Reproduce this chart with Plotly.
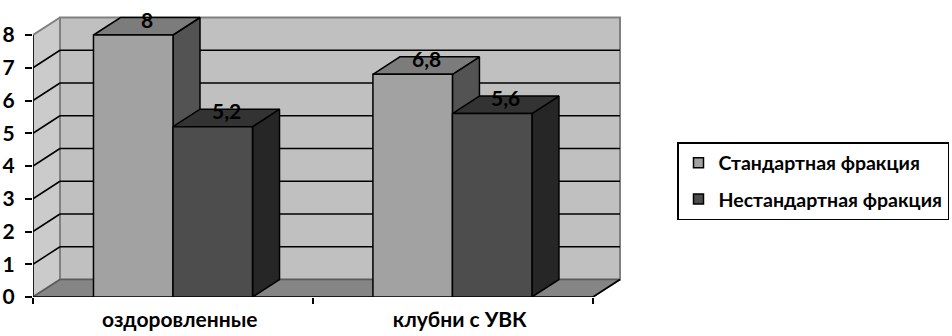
import plotly.graph_objects as go

# Data
categories = ["оздоровленные", "клубни с УВК"]
series_names = ["Стандартная фракция", "Нестандартная фракция"]
standard = [8, 6.8]
nonstandard = [5.2, 5.6]
y_ticks = [0, 1, 2, 3, 4, 5, 6, 7, 8]

# Styling / pseudo-3D geometry (in axis units)
FONT = "Lato, 'Open Sans', sans-serif"
FS = 21
DX = 27 / 280          # depth offset along x
DY = 17.5 / 32.75      # depth offset along y
BAR_W = 0.284
WALL_TOP = 8
N_CAT = len(categories)

face_colors = [
    dict(front="#A2A2A2", top="#7C7C7C", side="#535353"),
    dict(front="#4D4D4D", top="#333333", side="#262626"),
]

fig = go.Figure()


def poly(xs, ys, fill, line_color, line_width=1.5):
    fig.add_trace(go.Scatter(
        x=list(xs) + [xs[0]], y=list(ys) + [ys[0]],
        mode="lines", fill="toself", fillcolor=fill,
        line=dict(color=line_color, width=line_width),
        hoverinfo="skip", showlegend=False,
    ))


def seg(x, y, color, width=1.5):
    fig.add_trace(go.Scatter(
        x=x, y=y, mode="lines", line=dict(color=color, width=width),
        hoverinfo="skip", showlegend=False,
    ))


# Walls and floor
poly([DX, N_CAT + DX, N_CAT + DX, DX], [DY, DY, WALL_TOP + DY, WALL_TOP + DY],
     "#C0C0C0", "#808080", 2)
poly([0, DX, DX, 0], [0, DY, WALL_TOP + DY, WALL_TOP], "#CBCBCB", "#808080", 2)
poly([0, N_CAT, N_CAT + DX, DX], [0, 0, DY, DY], "#858585", "#5A5A5A", 1.5)
seg([N_CAT, N_CAT + DX], [0, DY], "black", 1.5)

# Gridlines on back and side walls
for v in y_ticks[1:-1]:
    seg([DX, N_CAT + DX], [v + DY, v + DY], "black", 1.5)
    seg([0, DX], [v, v + DY], "black", 1.5)

# Axis lines
seg([0, 0], [0, WALL_TOP], "black", 1.5)
seg([0, N_CAT], [0, 0], "black", 1.5)

# Bars: side, top and front faces
annotations = []
for i, cat in enumerate(categories):
    center = i + 0.5 - 0.002 * i
    for s, values in enumerate([standard, nonstandard]):
        v = values[i]
        x0 = center - BAR_W + s * BAR_W
        x1 = x0 + BAR_W
        c = face_colors[s]
        poly([x1, x1 + DX, x1 + DX, x1], [0, DY, v + DY, v], c["side"], "black")
        poly([x0, x1, x1 + DX, x0 + DX], [v, v, v + DY, v + DY], c["top"], "black")
        poly([x0, x1, x1, x0], [0, 0, v, v], c["front"], "black")
        annotations.append(dict(
            x=(x0 + x1) / 2 + DX / 2, y=v + DY / 2, yshift=7,
            text=f"<b>{v:g}</b>".replace(".", ","), showarrow=False,
            font=dict(family=FONT, size=FS, color="black"),
        ))

# Legend entries
for s, name in enumerate(series_names):
    fig.add_trace(go.Scatter(
        x=[None], y=[None], mode="markers", name=f"<b>{name}</b>",
        legendgroup=f"g{s}",
        marker=dict(symbol="square", size=10, color=face_colors[s]["front"],
                    line=dict(color="black", width=1.5)),
    ))

fig.update_layout(
    width=952, height=336,
    margin=dict(l=33, r=327, t=5, b=39, autoexpand=False),
    paper_bgcolor="white", plot_bgcolor="white",
    font=dict(family=FONT, size=FS, color="black"),
    showlegend=True,
    legend=dict(
        x=(677 - 33) / 592, xanchor="left",
        y=(297 - 142) / 292, yanchor="top",
        bordercolor="black", borderwidth=1.5, bgcolor="white",
        font=dict(family=FONT, size=19.5, color="black"),
        tracegroupgap=8, traceorder="grouped",
    ),
    annotations=annotations,
    xaxis=dict(
        range=[0, 592 / 280], showgrid=False, zeroline=False, showline=False,
        automargin=False,
        tickvals=[i + 0.5 + DX / 4 for i in range(N_CAT)],
        ticktext=[f"<b>{c}</b>" for c in categories],
        ticks="", tickfont=dict(family=FONT, size=FS),
        ticklabelstandoff=8,
        minor=dict(tickvals=list(range(N_CAT + 1)), ticks="outside",
                   ticklen=6, tickwidth=1.5, tickcolor="black", showgrid=False),
        fixedrange=True,
    ),
    yaxis=dict(
        range=[0, 292 / 32.75], showgrid=False, zeroline=False, showline=False,
        automargin=False,
        tickvals=y_ticks, ticktext=[f"<b>{t}</b>" for t in y_ticks],
        ticks="outside", ticklen=7, tickwidth=1.5, tickcolor="black",
        tickfont=dict(family=FONT, size=FS), ticklabelstandoff=6,
        fixedrange=True,
    ),
)

fig.write_html("out.html")
